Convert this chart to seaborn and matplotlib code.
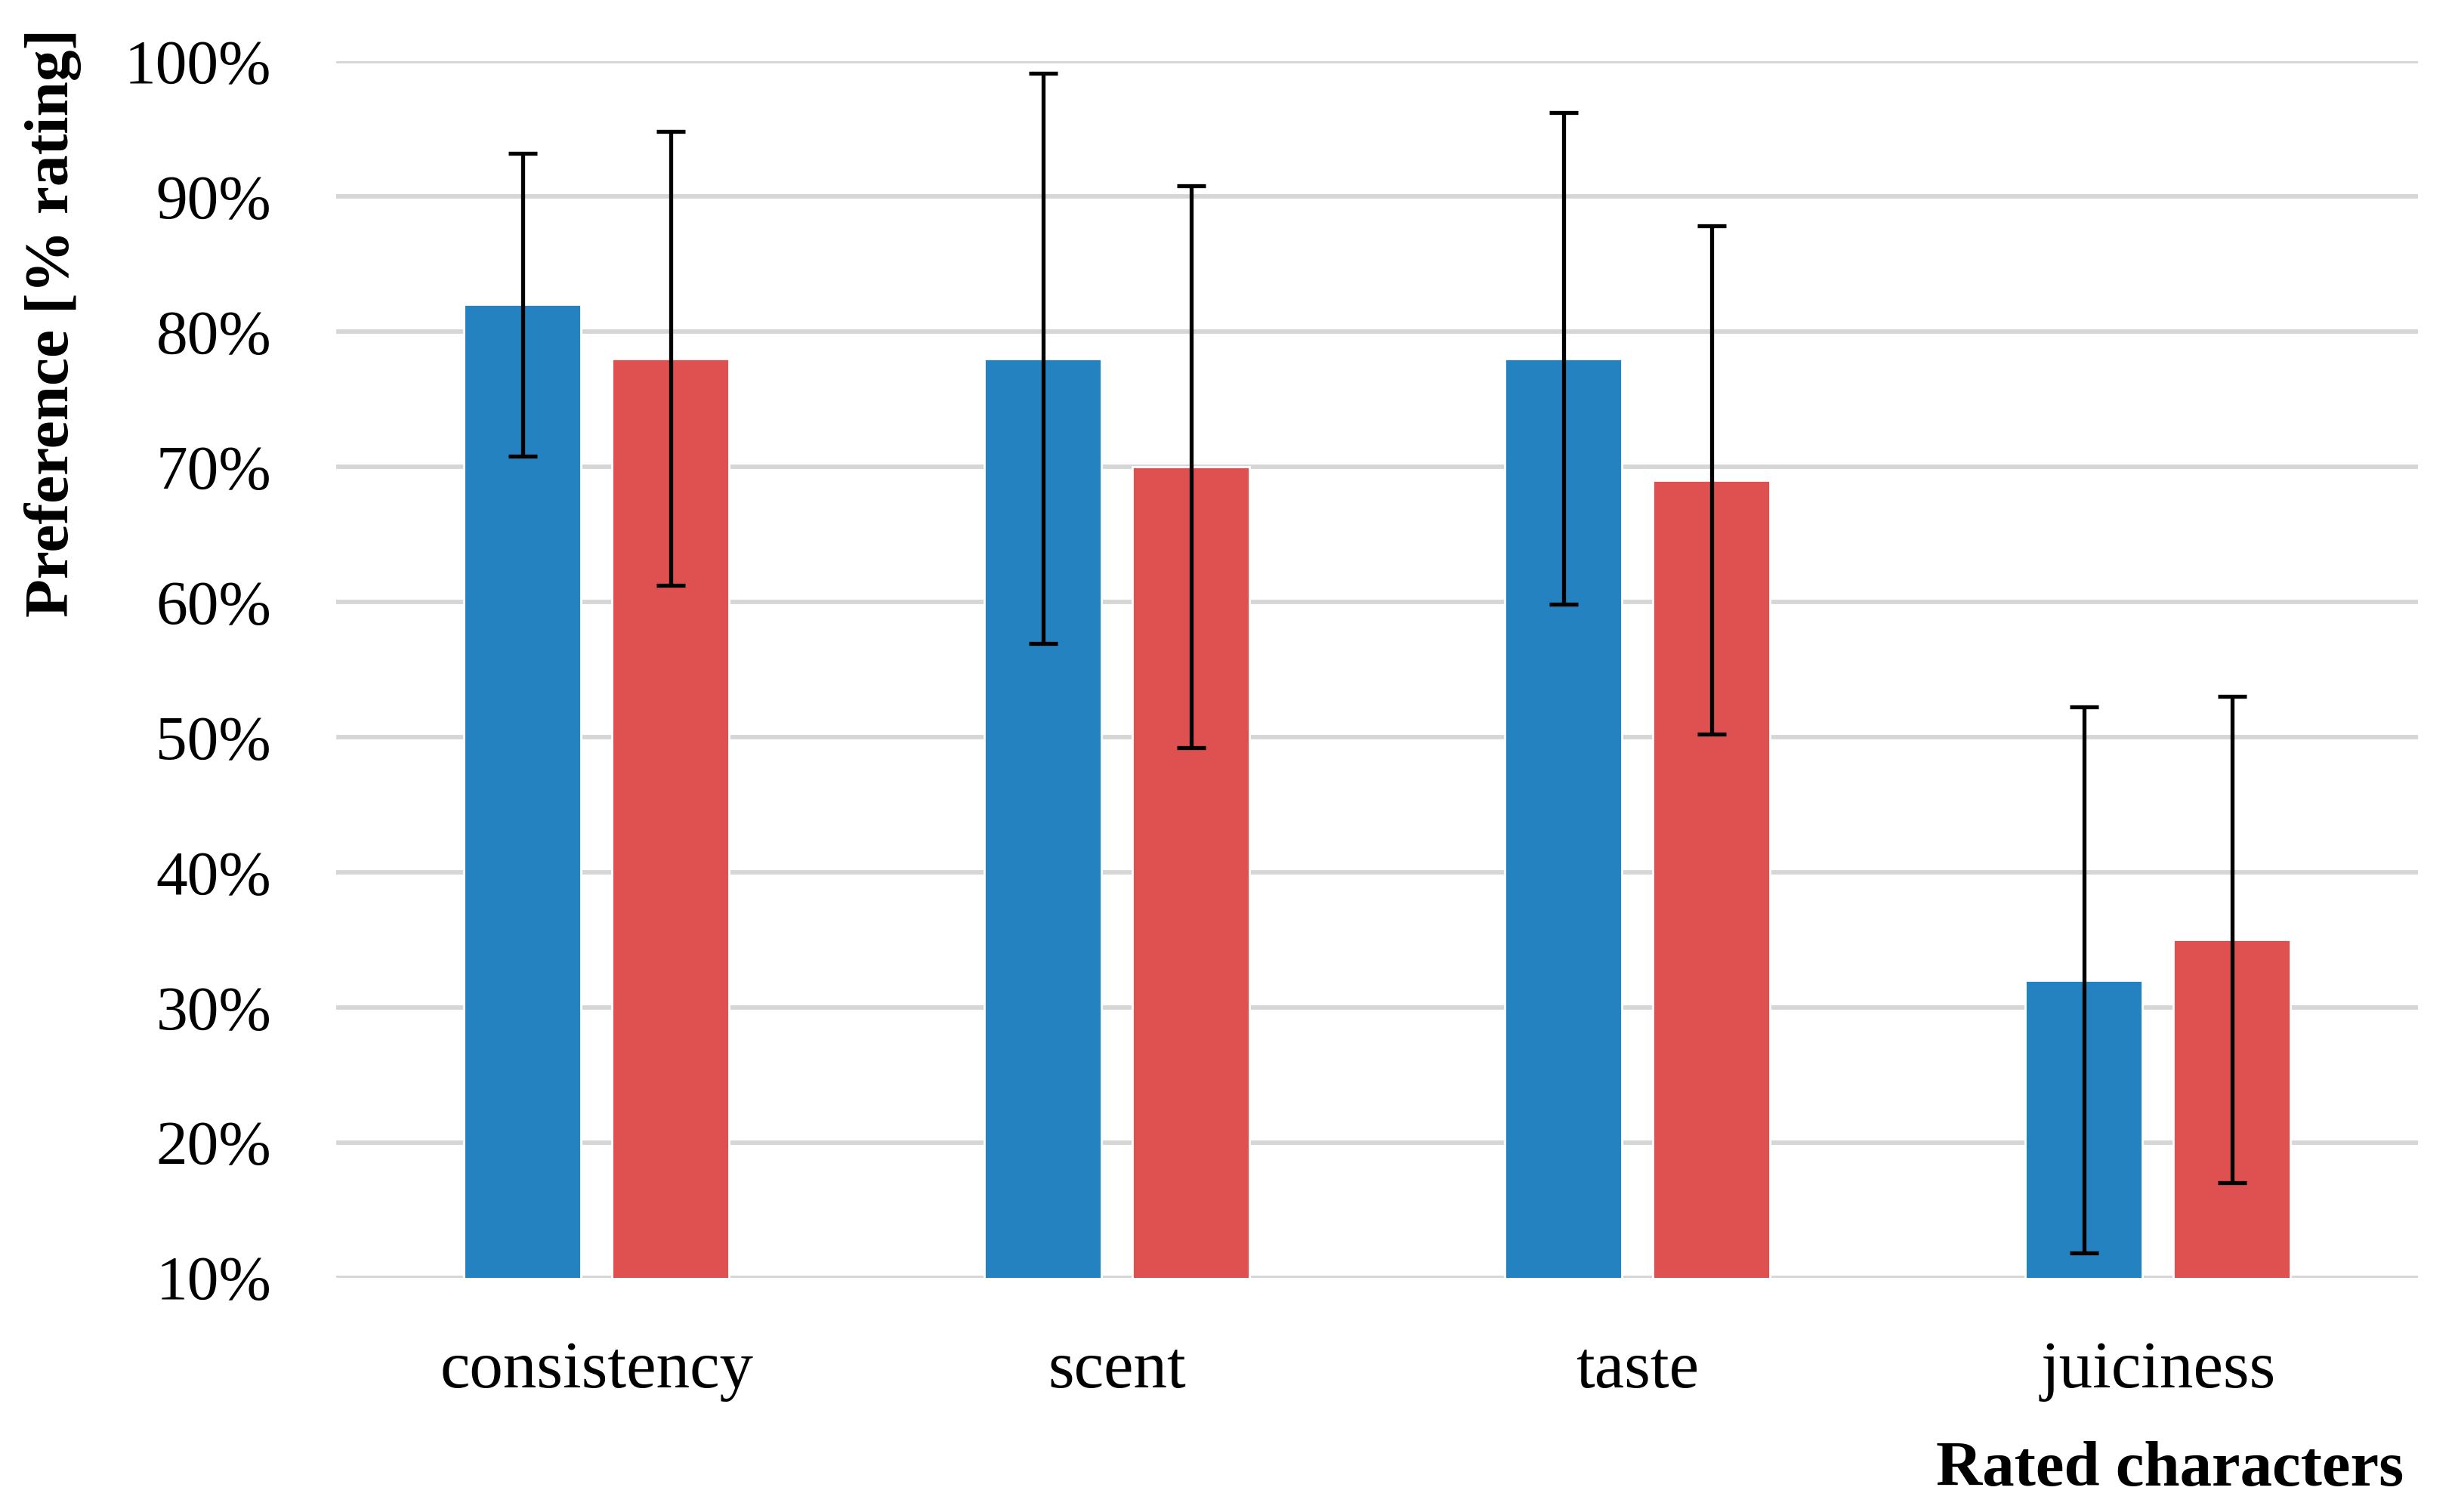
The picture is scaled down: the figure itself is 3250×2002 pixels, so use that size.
import numpy as np
import pandas as pd
import matplotlib
matplotlib.use("Agg")
import matplotlib.pyplot as plt
import seaborn as sns

# values
categories = ['consistency', 'scent', 'taste', 'juiciness']
series_names = ['Series 1', 'Series 2']
series_1 = [82, 78, 78, 32]
series_2 = [78, 70, 69, 35]
err_1 = [11.2, 21.1, 18.2, 20.2]
err_2 = [16.8, 20.8, 18.8, 18.0]
y_ticks = [10, 20, 30, 40, 50, 60, 70, 80, 90, 100]

colors = ['#2482C0', '#DF5150']

sns.set_theme(style="white")
plt.rcParams['font.family'] = ['Liberation Serif', 'DejaVu Serif']
plt.rcParams['text.color'] = 'black'
plt.rcParams['xtick.color'] = 'black'
plt.rcParams['ytick.color'] = 'black'

df = pd.DataFrame({
    'character': categories * 2,
    'series': [series_names[0]] * 4 + [series_names[1]] * 4,
    'value': series_1 + series_2,
})

fig = plt.figure(figsize=(16.25, 10.01), dpi=200)
ax = fig.add_axes([0.137, 0.155, 0.848, 0.8045])

sns.barplot(data=df, x='character', y='value', hue='series', order=categories,
            hue_order=series_names, palette=colors, errorbar=None,
            width=0.568, gap=0.208, saturation=1, legend=False, ax=ax)

# error bars at the centres of the bars seaborn drew
for cont, errs in zip(ax.containers, [err_1, err_2]):
    xs = [b.get_x() + b.get_width() / 2 for b in cont]
    hs = [b.get_height() for b in cont]
    ax.errorbar(xs, hs, yerr=errs, fmt='none', ecolor='black', elinewidth=1.9,
                capsize=7, capthick=1.9, zorder=5)

ax.set_ylim(10, 100)
ax.set_xlim(-0.5, 3.5)
ax.set_yticks(y_ticks)
ax.set_yticklabels(['{}%'.format(t) for t in y_ticks])
ax.yaxis.grid(True, color='#D6D6D6', linewidth=2.1)
ax.set_axisbelow(True)
for s in ax.spines.values():
    s.set_visible(False)
ax.tick_params(axis='y', length=0, pad=31, labelsize=30)
ax.tick_params(axis='x', length=0, pad=30, labelsize=32)
ax.set_xlabel('')
ax.set_ylabel('')

fig.text(0.0215, 1 - 38 / 2002, 'Preference [% rating]', rotation=90,
         ha='center', va='top', fontsize=30, fontweight='bold')
fig.text(3182 / 3250, 1 - 1967 / 2002, 'Rated characters', ha='right',
         va='baseline', fontsize=30.5, fontweight='bold')

fig.savefig('out.png', dpi=200, facecolor='white')
